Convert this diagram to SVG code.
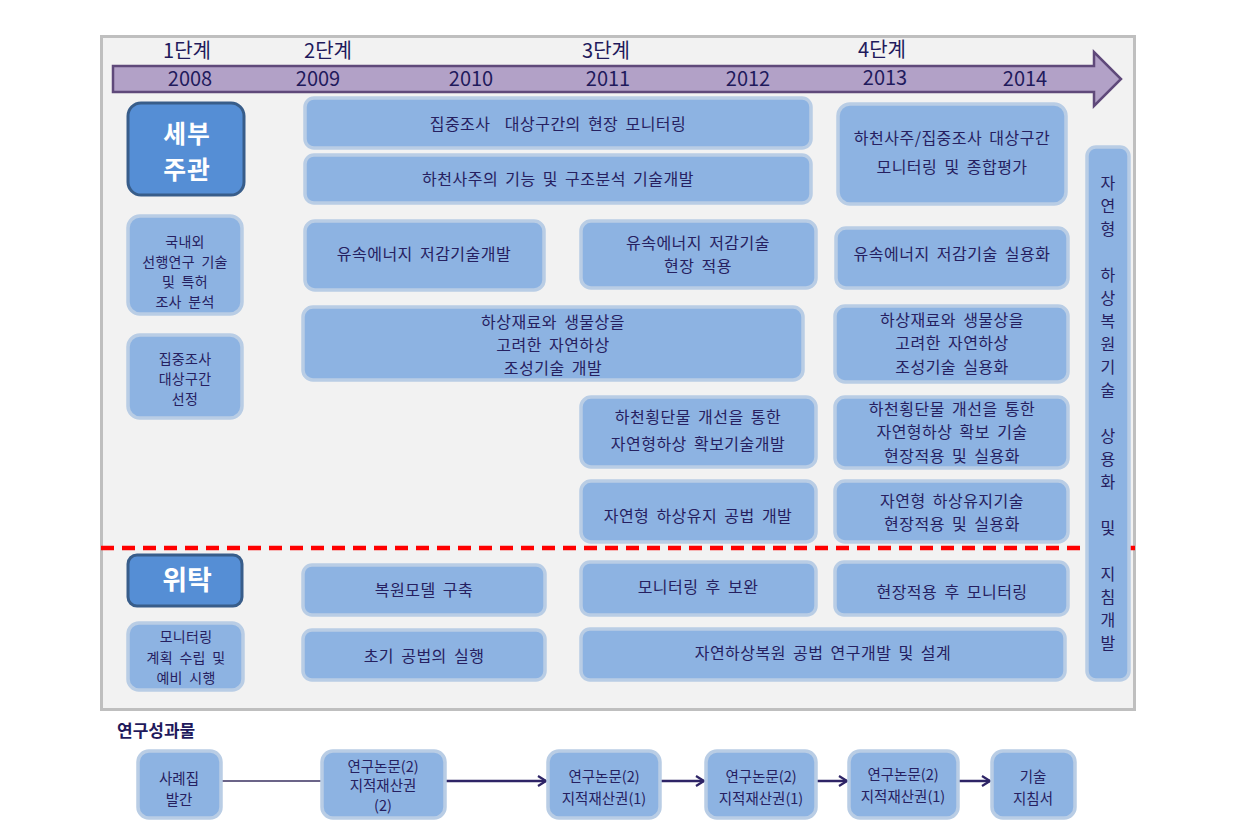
<svg xmlns="http://www.w3.org/2000/svg" width="1239" height="839" viewBox="0 0 1239 839">
<defs>
<style>
.t{font-family:"Noto Sans CJK KR","Noto Sans",sans-serif;fill:#262060;text-anchor:middle;font-size:16px;word-spacing:3px;letter-spacing:0.5px}
.s{font-size:14px;letter-spacing:0.3px}
.b{font-size:14.5px;word-spacing:0;letter-spacing:0}
.yr{font-size:20px;word-spacing:0;letter-spacing:0;fill:#1f1a5c}
.hd{font-family:"Noto Sans CJK KR","Noto Sans",sans-serif;fill:#ffffff;text-anchor:middle;font-size:27px;font-weight:bold}
.hs{font-size:24.8px;letter-spacing:1px}
.bx{fill:#8db3e2;stroke:#b9cde5;stroke-width:3.5}
.hb{fill:#558ed5;stroke:#385d8a;stroke-width:3}
.cn{stroke:#2e2466;stroke-width:2.5;fill:none}
</style>
<marker id="ah" viewBox="0 0 10 12" refX="9" refY="6" markerWidth="10" markerHeight="12" markerUnits="userSpaceOnUse" orient="auto">
<path d="M1,1 L9,6 L1,11" fill="none" stroke="#2e2466" stroke-width="2.2"/>
</marker>
</defs>
<rect width="1239" height="839" fill="#ffffff"/>
<rect x="101.5" y="36.5" width="1033" height="673" fill="#f2f2f2" stroke="#bfbfbf" stroke-width="3"/>

<g id="timeline">
<path d="M113,66 L1094,66 L1094,52 L1121,79 L1094,106 L1094,92 L113,92 Z" fill="#b2a1c7" stroke="#5f497a" stroke-width="2.5"/>
<text class="t yr" x="187" y="58">1단계</text>
<text class="t yr" x="328" y="58">2단계</text>
<text class="t yr" x="606" y="58">3단계</text>
<text class="t yr" x="882" y="57">4단계</text>
<text class="t yr" x="190" y="86">2008</text>
<text class="t yr" x="318" y="86">2009</text>
<text class="t yr" x="471" y="86">2010</text>
<text class="t yr" x="608" y="86">2011</text>
<text class="t yr" x="748" y="86">2012</text>
<text class="t yr" x="885" y="85">2013</text>
<text class="t yr" x="1025" y="86">2014</text>
</g>

<line x1="101" y1="548" x2="1135" y2="548" stroke="#ff0000" stroke-width="4.5" stroke-dasharray="13,8"/>

<g id="n_sebu"><rect class="hb" x="128" y="103" width="116" height="92" rx="13"/>
<text class="hd hs" x="187" y="143">세부</text><text class="hd hs" x="187" y="179">주관</text></g>
<g id="n_gugnae"><rect class="bx" x="128" y="216" width="114" height="98" rx="12"/>
<text class="t s" x="185" y="247">국내외</text><text class="t s" x="185" y="267">선행연구 기술</text><text class="t s" x="185" y="287">및 특허</text><text class="t s" x="185" y="307">조사 분석</text></g>
<g id="n_jipjung"><rect class="bx" x="128" y="335" width="114" height="83" rx="12"/>
<text class="t s" x="185" y="364">집중조사</text><text class="t s" x="185" y="384">대상구간</text><text class="t s" x="185" y="404">선정</text></g>

<g id="n_mon"><rect class="bx" x="305" y="98" width="506" height="50" rx="9"/>
<text class="t" x="558" y="130" xml:space="preserve">집중조사  대상구간의 현장 모니터링</text></g>
<g id="n_saju"><rect class="bx" x="305" y="155" width="506" height="48" rx="9"/>
<text class="t" x="558" y="185">하천사주의 기능 및 구조분석 기술개발</text></g>
<g id="n_eval"><rect class="bx" x="838" y="104" width="228" height="100" rx="12"/>
<text class="t" x="952" y="144">하천사주/집중조사 대상구간</text><text class="t" x="952" y="173">모니터링 및 종합평가</text></g>

<g id="n_flow1"><rect class="bx" x="305" y="221" width="239" height="69" rx="10"/>
<text class="t" x="424" y="260">유속에너지 저감기술개발</text></g>
<g id="n_flow2"><rect class="bx" x="581" y="221" width="235" height="67" rx="10"/>
<text class="t" x="698" y="249">유속에너지 저감기술</text><text class="t" x="698" y="272">현장 적용</text></g>
<g id="n_flow3"><rect class="bx" x="836" y="228" width="232" height="60" rx="10"/>
<text class="t" x="952" y="260">유속에너지 저감기술 실용화</text></g>

<g id="n_bed1"><rect class="bx" x="303" y="307" width="500" height="73" rx="10"/>
<text class="t" x="553" y="328">하상재료와 생물상을</text><text class="t" x="553" y="351">고려한 자연하상</text><text class="t" x="553" y="374">조성기술 개발</text></g>
<g id="n_bed2"><rect class="bx" x="835" y="306" width="233" height="76" rx="10"/>
<text class="t" x="952" y="326">하상재료와 생물상을</text><text class="t" x="952" y="349">고려한 자연하상</text><text class="t" x="952" y="373">조성기술 실용화</text></g>

<g id="n_cross1"><rect class="bx" x="581" y="397" width="235" height="70" rx="10"/>
<text class="t" x="698" y="423">하천횡단물 개선을 통한</text><text class="t" x="698" y="450">자연형하상 확보기술개발</text></g>
<g id="n_cross2"><rect class="bx" x="835" y="397" width="233" height="71" rx="10"/>
<text class="t" x="952" y="415">하천횡단물 개선을 통한</text><text class="t" x="952" y="438">자연형하상 확보 기술</text><text class="t" x="952" y="462">현장적용 및 실용화</text></g>

<g id="n_keep1"><rect class="bx" x="581" y="481" width="235" height="61" rx="10"/>
<text class="t" x="698" y="522">자연형 하상유지 공법 개발</text></g>
<g id="n_keep2"><rect class="bx" x="835" y="481" width="233" height="61" rx="10"/>
<text class="t" x="952" y="507">자연형 하상유지기술</text><text class="t" x="952" y="530">현장적용 및 실용화</text></g>

<g id="n_vert"><rect class="bx" x="1087" y="147" width="42" height="533" rx="9"/>
<text class="t" x="1108" y="189">자</text><text class="t" x="1108" y="212">연</text><text class="t" x="1108" y="235">형</text>
<text class="t" x="1108" y="281">하</text><text class="t" x="1108" y="304">상</text><text class="t" x="1108" y="327">복</text><text class="t" x="1108" y="350">원</text><text class="t" x="1108" y="373">기</text><text class="t" x="1108" y="396">술</text>
<text class="t" x="1108" y="442">상</text><text class="t" x="1108" y="465">용</text><text class="t" x="1108" y="488">화</text>
<text class="t" x="1108" y="534">및</text>
<text class="t" x="1108" y="580">지</text><text class="t" x="1108" y="603">침</text><text class="t" x="1108" y="626">개</text><text class="t" x="1108" y="649">발</text></g>

<g id="n_witak"><rect class="hb" x="128" y="555" width="114" height="51" rx="9"/>
<text class="hd" x="187" y="590">위탁</text></g>
<g id="n_plan"><rect class="bx" x="128" y="623" width="115" height="67" rx="11"/>
<text class="t s" x="186" y="642">모니터링</text><text class="t s" x="186" y="662.5">계획 수립 및</text><text class="t s" x="186" y="683">예비 시행</text></g>
<g id="n_model"><rect class="bx" x="303" y="565" width="242" height="50" rx="9"/>
<text class="t" x="424" y="596">복원모델 구축</text></g>
<g id="n_init"><rect class="bx" x="303" y="630" width="242" height="50" rx="9"/>
<text class="t" x="424" y="662">초기 공법의 실행</text></g>
<g id="n_supp"><rect class="bx" x="581" y="562" width="235" height="53" rx="9"/>
<text class="t" x="698" y="593">모니터링 후 보완</text></g>
<g id="n_after"><rect class="bx" x="835" y="562" width="233" height="53" rx="9"/>
<text class="t" x="952" y="598">현장적용 후 모니터링</text></g>
<g id="n_design"><rect class="bx" x="581" y="629" width="484" height="51" rx="9"/>
<text class="t" x="823" y="659">자연하상복원 공법 연구개발 및 설계</text></g>

<text x="117" y="737" font-family="Noto Sans CJK KR, Noto Sans, sans-serif" font-size="17" font-weight="bold" fill="#1f1a5c">연구성과물</text>

<g id="connectors">
<line x1="222" y1="781" x2="321" y2="781" stroke="#3a3060" stroke-width="1.3"/>
<line class="cn" x1="446" y1="781" x2="546" y2="781" marker-end="url(#ah)"/>
<line class="cn" x1="661" y1="781" x2="704" y2="781" marker-end="url(#ah)"/>
<line class="cn" x1="817" y1="781" x2="847" y2="781" marker-end="url(#ah)"/>
<line class="cn" x1="959" y1="781" x2="990" y2="781" marker-end="url(#ah)"/>
</g>

<g id="o_case"><rect class="bx" x="138" y="751" width="83" height="67" rx="11"/>
<text class="t b" x="179" y="784">사례집</text><text class="t b" x="179" y="805">발간</text></g>
<g id="o_1"><rect class="bx" x="322" y="751" width="123" height="67" rx="11"/>
<text class="t b" x="383" y="772">연구논문(2)</text><text class="t b" x="383" y="791">지적재산권</text><text class="t b" x="383" y="811">(2)</text></g>
<g id="o_2"><rect class="bx" x="548" y="751" width="112" height="67" rx="11"/>
<text class="t b" x="604" y="782">연구논문(2)</text><text class="t b" x="604" y="804">지적재산권(1)</text></g>
<g id="o_3"><rect class="bx" x="706" y="751" width="110" height="67" rx="11"/>
<text class="t b" x="761" y="782">연구논문(2)</text><text class="t b" x="761" y="804">지적재산권(1)</text></g>
<g id="o_4"><rect class="bx" x="849" y="751" width="109" height="67" rx="11"/>
<text class="t b" x="903" y="780">연구논문(2)</text><text class="t b" x="903" y="802">지적재산권(1)</text></g>
<g id="o_5"><rect class="bx" x="992" y="751" width="83" height="67" rx="11"/>
<text class="t b" x="1033" y="782">기술</text><text class="t b" x="1033" y="804">지침서</text></g>
</svg>
